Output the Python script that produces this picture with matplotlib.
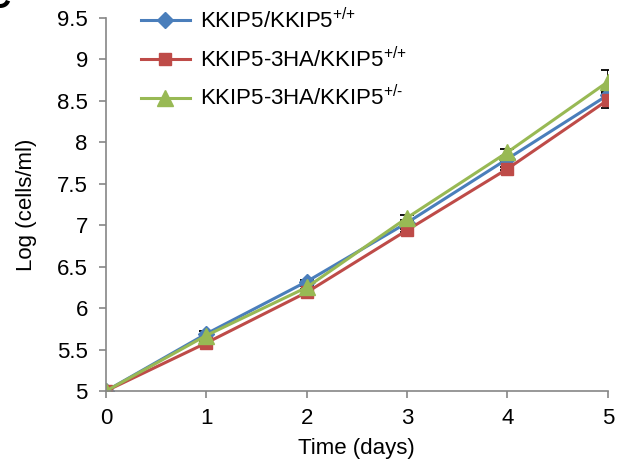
import matplotlib
matplotlib.use("Agg")
import matplotlib.pyplot as plt

plt.rcParams['font.family'] = ['Liberation Sans', 'DejaVu Sans']
plt.rcParams['mathtext.fontset'] = 'custom'
plt.rcParams['mathtext.rm'] = 'Liberation Sans'

days = [0, 1, 2, 3, 4, 5]
labels = ["KKIP5/KKIP5$^{\\mathregular{{+}/{+}}}$",
          "KKIP5-3HA/KKIP5$^{\\mathregular{{+}/{+}}}$",
          "KKIP5-3HA/KKIP5$^{\\mathregular{{+}/\u2010}}$"]
blue_vals = [5.0, 5.69, 6.32, 7.03, 7.80, 8.57]
red_vals = [5.0, 5.58, 6.19, 6.94, 7.68, 8.51]
green_vals = [5.0, 5.67, 6.25, 7.09, 7.88, 8.73]
blue_err = [0.0, 0.03, 0.02, 0.02, 0.03, 0.05]
red_err = [0.0, 0.02, 0.02, 0.02, 0.02, 0.10]
green_err = [0.0, 0.02, 0.02, 0.03, 0.04, 0.14]

fig = plt.figure(figsize=(6.19, 4.59), dpi=100)
ax = fig.add_axes([0.171, 0.148, 0.811, 0.813])

series = [
    (blue_vals, blue_err, '#4A7EBB', 'D', 8),
    (red_vals, red_err, '#BE4B48', 's', 9),
    (green_vals, green_err, '#98B954', '^', 11),
]
for (vals, err, col, mk, ms), lab in zip(series, labels):
    ax.errorbar(days, vals, yerr=err, fmt='none', ecolor='black', elinewidth=1.3,
                capsize=5, capthick=1.3, zorder=1)
    ax.plot(days, vals, color=col, marker=mk, markersize=ms, linewidth=2.2,
            label=lab, zorder=2)

ax.set_xlim(0, 5)
ax.set_ylim(5, 9.5)
ax.set_xticks(days)
ax.set_yticks([5, 5.5, 6, 6.5, 7, 7.5, 8, 8.5, 9, 9.5])
ax.set_yticklabels(['5', '5.5', '6', '6.5', '7', '7.5', '8', '8.5', '9', '9.5'])
for s in ['top', 'right']:
    ax.spines[s].set_visible(False)
for s in ['left', 'bottom']:
    ax.spines[s].set_color('#868686')
    ax.spines[s].set_linewidth(1.2)
ax.tick_params(axis='both', colors='#868686', labelcolor='black', labelsize=16,
               direction='out', length=5, width=1.2)
ax.tick_params(axis='x', pad=7)
ax.tick_params(axis='y', pad=8)
ax.set_xlabel("Time (days)", fontsize=16, labelpad=7)
ax.set_ylabel("Log (cells/ml)", fontsize=16, labelpad=14)
for lbl in ax.get_xticklabels() + ax.get_yticklabels():
    lbl.set_clip_on(False)

ax.legend(loc='upper left', bbox_to_anchor=(0.03, 1.08), frameon=False, fontsize=16,
          handlelength=2.2, labelspacing=0.6, handletextpad=0.45)

# panel letter, cropped at the corner like in the source figure
fig.text(-0.022, 1.035, 'C', fontsize=24, fontweight='bold', va='top')

fig.savefig("out.png", dpi=100)
